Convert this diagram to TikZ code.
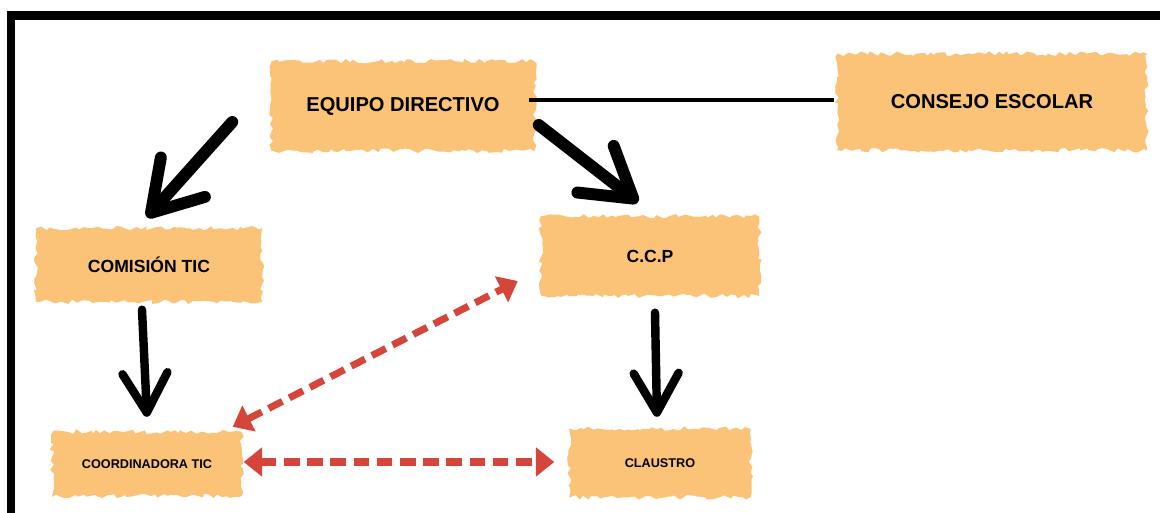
\documentclass[tikz,border=0pt]{standalone}
\usepackage{fontspec}
\setmainfont{Liberation Sans}
\usetikzlibrary{calc,arrows.meta,decorations.pathmorphing}
\definecolor{brushorange}{RGB}{250,195,120}
\definecolor{arrowred}{RGB}{214,69,58}

\begin{document}
\begin{tikzpicture}[x=0.025cm, y=-0.025cm, thick,
	main/.style = {rectangle, fill=brushorange, draw=brushorange, line width=1pt, decorate,
		decoration={random steps, segment length=3pt, amplitude=1.6pt}, font=\bfseries, inner sep=0pt},
	big/.style = {line width=8.5pt, line cap=round, -{Straight Barb[length=34pt, width=42pt, round]}},
	down/.style = {line width=6pt, line cap=round, -{Straight Barb[length=28pt, width=32pt, round]}},
	red/.style = {arrowred, line width=5pt, dash pattern=on 11pt off 5.5pt,
		{Triangle[length=13pt, width=20pt]}-{Triangle[length=13pt, width=20pt]}}]
	\useasboundingbox (0,0) rectangle (1160,513);
	\draw[line width=5.7pt] (11,513) -- (11,15.5) -- (1160,15.5);
	\node[main, minimum width=262*0.7113pt, minimum height=88*0.7113pt] (1) at (403,106) {\fontsize{14.3}{16}\selectfont EQUIPO DIRECTIVO};
	\node[main, minimum width=308*0.7113pt, minimum height=95*0.7113pt] (2) at (992,102) {\fontsize{14.3}{16}\selectfont CONSEJO ESCOLAR};
	\node[main, minimum width=225*0.7113pt, minimum height=72*0.7113pt] (3) at (149,265) {\fontsize{12.5}{14}\selectfont COMISIÓN TIC};
	\node[main, minimum width=217*0.7113pt, minimum height=78*0.7113pt] (4) at (650,256) {\fontsize{12.5}{14}\selectfont C.C.P};
	\node[main, minimum width=188*0.7113pt, minimum height=63*0.7113pt] (5) at (147,464) {\fontsize{9}{11}\selectfont COORDINADORA TIC};
	\node[main, minimum width=180*0.7113pt, minimum height=67*0.7113pt] (6) at (660,463) {\fontsize{9}{11}\selectfont CLAUSTRO};
	\draw[line width=2.2pt] ($(1.east)+(-6,-6)$) -- ($(2.west)+(-3,-2)$);
	\draw[big] ($(1.west)+(-39,16)$) -- ($(3.north)+(-2,-11)$);
	\draw[big] ($(1.east)+(4,19)$) -- ($(4.north)+(-12,-14)$);
	\draw[down] ($(3.south)+(-7,8)$) -- ($(5.north)+(0,-15)$);
	\draw[down] ($(4.south)+(5,17)$) -- ($(6.north)+(-3,-12)$);
	\draw[red] ($(5.north east)+(-9,-5)$) -- ($(4.west)+(-23,25)$);
	\draw[red] ($(5.east)+(2,-2)$) -- ($(6.west)+(-15,-1)$);
\end{tikzpicture}
\end{document}
